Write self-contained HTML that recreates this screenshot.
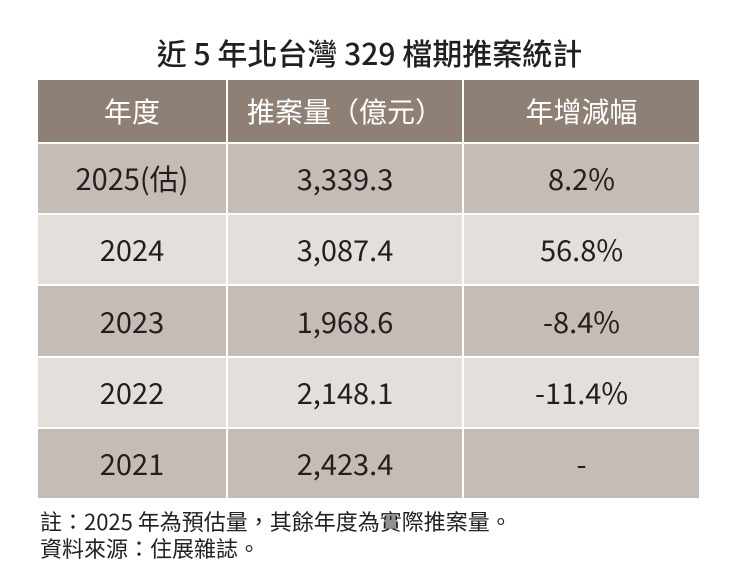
<!DOCTYPE html>
<html><head><meta charset="utf-8"><style>
body{margin:0;width:739px;height:588px;background:#fff;font-family:"Noto Sans CJK TC","Liberation Sans",sans-serif;position:relative;overflow:hidden;color:#231f20}
.t{position:absolute;left:0;width:739px;top:32px;text-align:center;font-size:30px;font-weight:500;line-height:40px}
.tbl{position:absolute;left:38px;top:80px;display:grid;grid-template-columns:188px 234px 235px;grid-template-rows:62px 69px 69px 70px 69px 69px;gap:2px}
.c{display:flex;align-items:center;justify-content:center;font-size:29px;line-height:1}
.h{background:#8f8076;color:#fff;font-size:28px}
.o{background:#c6bcb6}
.e{background:#e3e0dc}
.n{position:absolute;left:40px;font-size:22px;line-height:26px}
</style></head><body>
<div class="t">近 5 年北台灣 329 檔期推案統計</div>
<div class="tbl">
<div class="c h">年度</div>
<div class="c h">推案量（億元）</div>
<div class="c h">年增減幅</div>
<div class="c o">2025(估)</div><div class="c o">3,339.3</div><div class="c o">8.2%</div>
<div class="c e">2024</div><div class="c e">3,087.4</div><div class="c e">56.8%</div>
<div class="c o">2023</div><div class="c o">1,968.6</div><div class="c o">-8.4%</div>
<div class="c e">2022</div><div class="c e">2,148.1</div><div class="c e">-11.4%</div>
<div class="c o">2021</div><div class="c o">2,423.4</div><div class="c o">-</div>
</div>
<div class="n" style="top:508px">註：2025 年為預估量，其餘年度為實際推案量。</div>
<div class="n" style="top:535px">資料來源：住展雜誌。</div>
</body></html>
